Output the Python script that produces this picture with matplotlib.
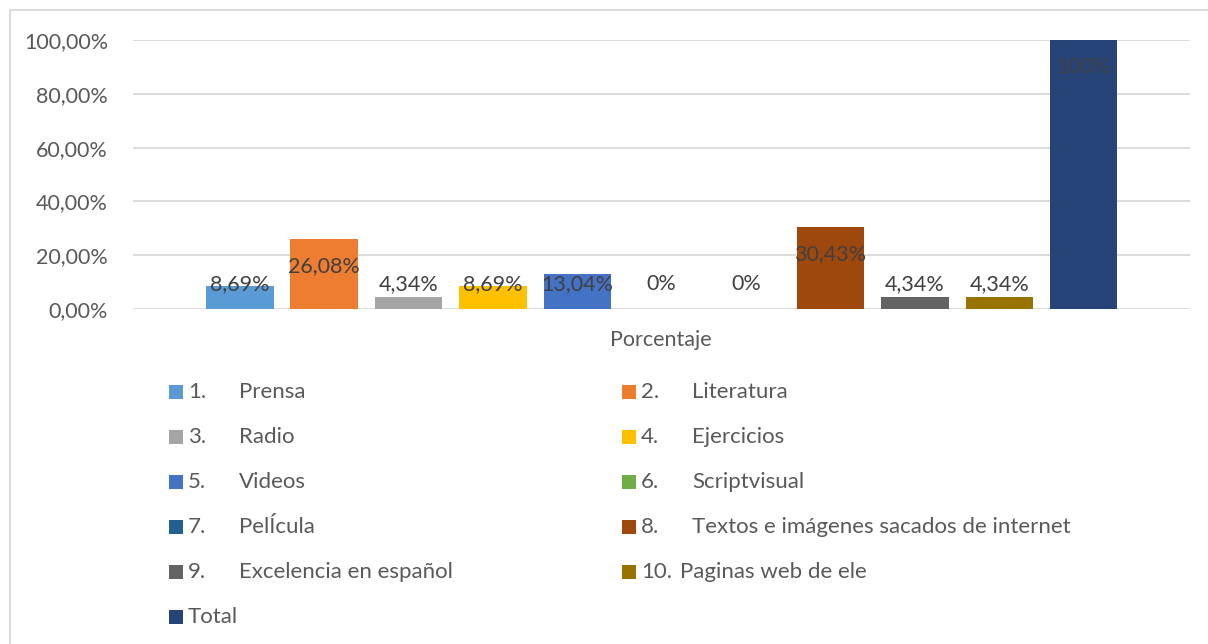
import matplotlib
matplotlib.use("Agg")
import matplotlib.pyplot as plt
from matplotlib.patches import Rectangle

plt.rcParams['font.family'] = ['Lato', 'DejaVu Sans']

numbers = ["1.", "2.", "3.", "4.", "5.", "6.", "7.", "8.", "9.", "10.", ""]
series = ["Prensa", "Literatura", "Radio", "Ejercicios", "Videos", "Scriptvisual",
          "PelÍcula", "Textos e imágenes sacados de internet", "Excelencia en español",
          "Paginas web de ele", "Total"]
values = [8.69, 26.08, 4.34, 8.69, 13.04, 0, 0, 30.43, 4.34, 4.34, 100]
value_labels = ["8,69%", "26,08%", "4,34%", "8,69%", "13,04%", "0%", "0%",
                "30,43%", "4,34%", "4,34%", "100%"]
colors = ["#5B9BD5", "#ED7D31", "#A5A5A5", "#FFC000", "#4472C4", "#70AD47",
          "#255E91", "#9E480E", "#636363", "#997300", "#264478"]
yticks = [0, 20, 40, 60, 80, 100]
ytick_labels = ["0,00%", "20,00%", "40,00%", "60,00%", "80,00%", "100,00%"]
category = "Porcentaje"

W, H = 1208, 644
FS = 15.5
fig = plt.figure(figsize=(W / 100, H / 100), dpi=100)
ax = fig.add_axes([133 / W, 1 - 309 / H, (1190 - 133) / W, (309 - 40) / H])

xs = list(range(len(values)))
ax.bar(xs, values, width=0.8, color=colors, zorder=3)
ax.set_xlim(-1.265, 11.26)
ax.set_ylim(0, 100)
ax.set_yticks(yticks)
ax.set_yticklabels(ytick_labels)
ax.set_xticks([])
ax.grid(axis='y', color='#D9D9D9', linewidth=1.3, zorder=0)
for s in ax.spines.values():
    s.set_visible(False)
ax.tick_params(axis='y', length=0, pad=18, labelsize=FS, labelcolor='#595959')

for x, v, lab in zip(xs, values, value_labels):
    y = max(v - 10.2, 9.2)
    ax.text(x, y, lab, ha='center', va='center', fontsize=FS, color='#404040', zorder=4)

fig.text(661 / W, 1 - 340 / H, category, ha='center', va='center', fontsize=FS, color='#595959')

# outer frame
fig.patches.append(Rectangle((10 / W, -0.01), 1.02 - 10 / W, 1 - 10 / H + 0.01,
                             transform=fig.transFigure, fill=False,
                             edgecolor='#D9D9D9', linewidth=1.3))

# legend (two columns)
LFS = 16
col_x = [169, 622]
row_y = [392, 437, 482, 527, 572, 617]
for i, (num, name, c) in enumerate(zip(numbers, series, colors)):
    col = i % 2
    row = i // 2
    mx = col_x[col]
    my = row_y[row]
    fig.patches.append(Rectangle((mx / W, 1 - (my + 7) / H), 14 / W, 14 / H,
                                 transform=fig.transFigure, facecolor=c, edgecolor='none'))
    if num:
        fig.text((mx + 19) / W, 1 - my / H, num, ha='left', va='center', fontsize=LFS, color='#595959')
        name_x = mx + 70 if num != "10." else mx + 58
        fig.text(name_x / W, 1 - my / H, name, ha='left', va='center', fontsize=LFS, color='#595959')
    else:
        fig.text((mx + 19) / W, 1 - my / H, name, ha='left', va='center', fontsize=LFS, color='#595959')

fig.savefig("out.png", dpi=100, facecolor='white')
